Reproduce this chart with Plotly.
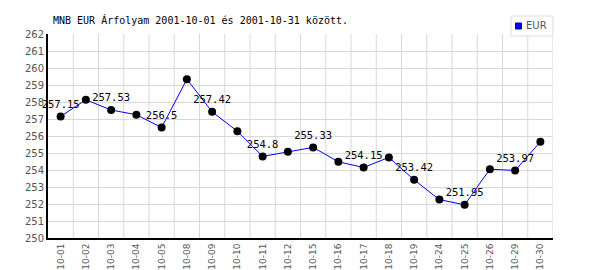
import plotly.graph_objects as go

dates = ["10-01", "10-02", "10-03", "10-04", "10-05", "10-08", "10-09", "10-10", "10-11", "10-12",
         "10-15", "10-16", "10-17", "10-18", "10-19", "10-24", "10-25", "10-26", "10-29", "10-30"]
eur = [257.15, 258.13, 257.53, 257.25, 256.5, 259.34, 257.42, 256.28, 254.8, 255.07,
       255.33, 254.48, 254.15, 254.74, 253.42, 252.26, 251.95, 254.05, 253.97, 255.66]
labels = [f"{v:g}" if i % 2 == 0 else "" for i, v in enumerate(eur)]
y_ticks = list(range(250, 263))
title = "MNB EUR Árfolyam 2001-10-01 és 2001-10-31 között."
series_name = "EUR"

W, H = 600, 270
L, R, T, B = 48, 47, 34, 32
PW, PH = W - L - R, H - T - B


def px(x):
    return (x - L) / PW


def py(y):
    return (H - B - y) / PH


fig = go.Figure()
fig.add_trace(go.Scatter(
    x=list(range(len(dates))), y=eur, mode="lines+markers+text", name=series_name,
    line=dict(color="#0000ff", width=1),
    marker=dict(color="#000000", size=8),
    text=labels, textposition="top center",
    textfont=dict(family="DejaVu Sans Mono", size=10.5, color="#000000"),
    showlegend=False, cliponaxis=False,
))

fig.update_layout(
    width=W, height=H,
    margin=dict(l=L, r=R, t=T, b=B, autoexpand=False),
    paper_bgcolor="white", plot_bgcolor="white",
    title=dict(text=title, x=53 / W, xanchor="left", y=1 - 20 / H, yanchor="middle",
               font=dict(family="DejaVu Sans Mono", size=10, color="#000000")),
    showlegend=False,
)
fig.update_xaxes(
    range=[-0.5, len(dates) - 0.5], automargin=False,
    tickmode="array", tickvals=list(range(len(dates))), ticktext=dates,
    tickangle=-90, showgrid=False,
    tickfont=dict(family="DejaVu Sans", size=9, color="#555555"),
    showline=True, linecolor="#000000", linewidth=2, zeroline=False, ticks="",
)
# vertical gridlines at category boundaries
for i in range(len(dates)):
    fig.add_shape(type="line", x0=i + 0.5, x1=i + 0.5, y0=0, y1=1, xref="x", yref="paper",
                  line=dict(color="#d8d8d8", width=1), layer="below")
fig.update_yaxes(
    range=[250, 262], tickmode="array", tickvals=y_ticks, automargin=False,
    showgrid=True, gridcolor="#d8d8d8", gridwidth=1,
    tickfont=dict(family="DejaVu Sans", size=10, color="#555555"),
    showline=True, linecolor="#000000", linewidth=2, zeroline=False, ticks="",
)

# legend box (drawn)
fig.add_shape(type="rect", xref="paper", yref="paper",
              x0=px(511), x1=px(553), y0=py(36), y1=py(16),
              line=dict(color="#dddddd", width=1), fillcolor="white", layer="above")
fig.add_shape(type="rect", xref="paper", yref="paper",
              x0=px(515.5), x1=px(521.5), y0=py(29), y1=py(23),
              line=dict(color="#000080", width=1), fillcolor="#0000ff", layer="above")
fig.add_annotation(text=series_name, xref="paper", yref="paper", x=px(523.5), y=py(26),
                   xanchor="left", yanchor="middle", showarrow=False,
                   font=dict(family="DejaVu Sans", size=10, color="#555555"))

fig.write_html("out.html")
